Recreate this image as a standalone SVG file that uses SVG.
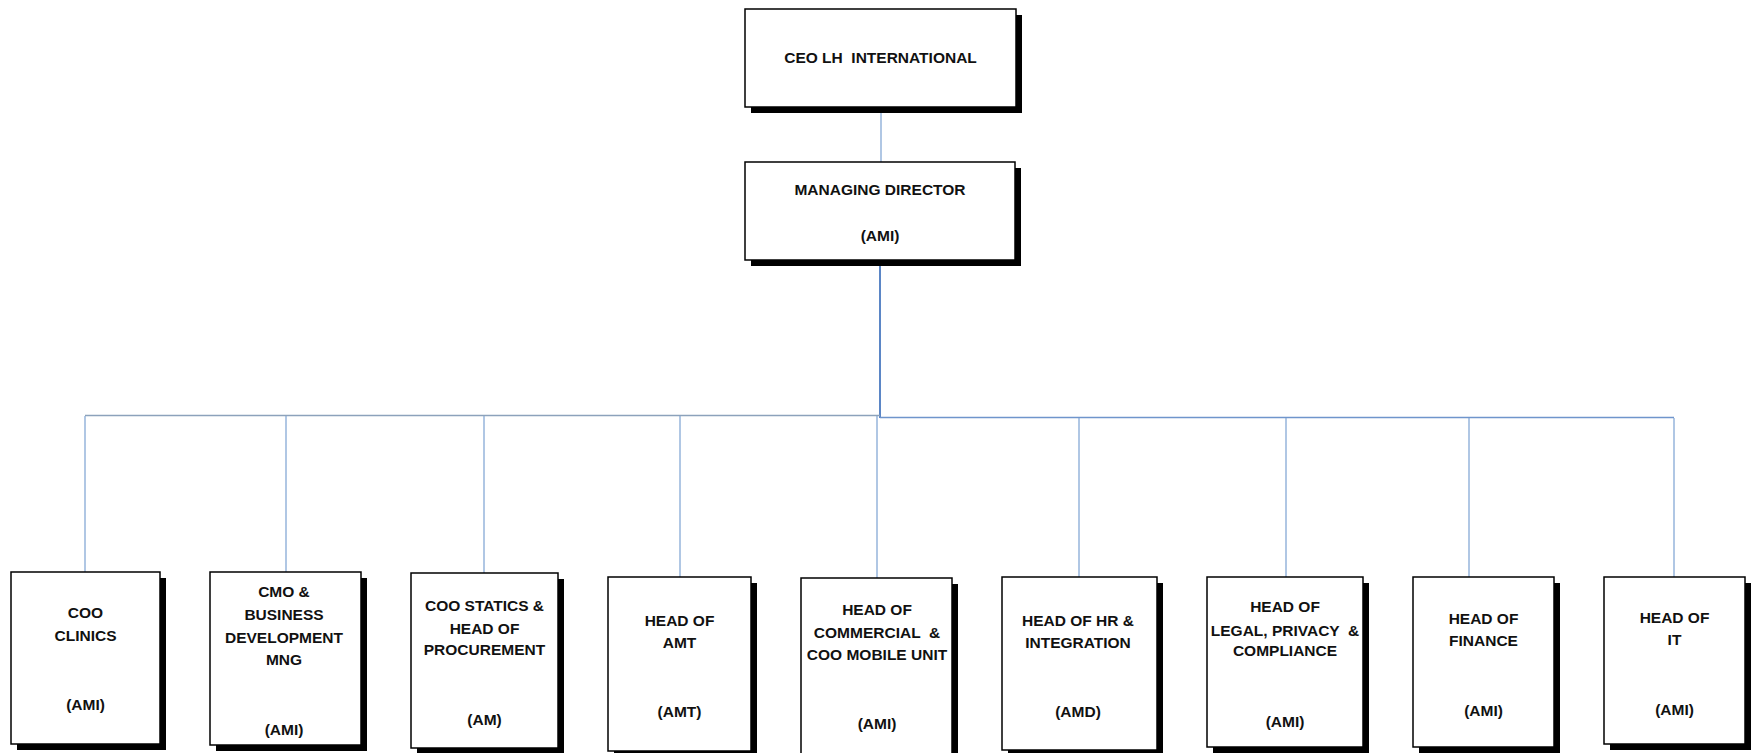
<svg xmlns="http://www.w3.org/2000/svg" width="1754" height="753" viewBox="0 0 1754 753">
<style>
.box{fill:#ffffff;stroke:#000000;stroke-width:1.5}
.sh{fill:#000000}
.t{font-family:"Liberation Sans",Arial,sans-serif;font-weight:bold;font-size:15.5px;fill:#111111;text-anchor:middle}
.c{fill:none;stroke:#86a9d6;stroke-width:1.3}
.cb{fill:none;stroke:#5b86c6;stroke-width:2}
.cg{fill:none;stroke:#8ca2bb;stroke-width:1.5}
</style>
<rect width="1754" height="753" fill="#ffffff"/>
<g id="connectors">
<line class="c" x1="881" y1="107" x2="881" y2="162"/>
<line class="cb" x1="880" y1="260" x2="880" y2="418"/>
<line class="cg" x1="85" y1="415.5" x2="880" y2="415.5"/>
<line class="cb" x1="880" y1="417.5" x2="1674" y2="417.5" style="stroke-width:1.5;stroke:#6f95cc"/>
<line class="c" x1="85" y1="416" x2="85" y2="572"/>
<line class="c" x1="286" y1="416" x2="286" y2="572"/>
<line class="c" x1="484" y1="416" x2="484" y2="573"/>
<line class="c" x1="680" y1="416" x2="680" y2="577"/>
<line class="c" x1="877" y1="416" x2="877" y2="578"/>
<line class="c" x1="1079" y1="418" x2="1079" y2="577"/>
<line class="c" x1="1286" y1="418" x2="1286" y2="577"/>
<line class="c" x1="1469" y1="418" x2="1469" y2="577"/>
<line class="c" x1="1674" y1="418" x2="1674" y2="577"/>
</g>
<g id="ceo">
<rect class="sh" x="751" y="15" width="271" height="98"/>
<rect class="box" x="745" y="9" width="271" height="98"/>
<text class="t" x="880.5" y="62.5" xml:space="preserve">CEO LH  INTERNATIONAL</text>
</g>
<g id="md">
<rect class="sh" x="751" y="168" width="270" height="98"/>
<rect class="box" x="745" y="162" width="270" height="98"/>
<text class="t" x="880" y="194.5">MANAGING DIRECTOR</text>
<text class="t" x="880" y="240.5">(AMI)</text>
</g>
<g id="coo-clinics">
<rect class="sh" x="17" y="578" width="149" height="172"/>
<rect class="box" x="11" y="572" width="149" height="172"/>
<text class="t" x="85.5" y="618">COO</text>
<text class="t" x="85.5" y="641">CLINICS</text>
<text class="t" x="85.5" y="709.5">(AMI)</text>
</g>
<g id="cmo">
<rect class="sh" x="216" y="578" width="151" height="173"/>
<rect class="box" x="210" y="572" width="151" height="173"/>
<text class="t" x="284" y="596.5">CMO &amp;</text>
<text class="t" x="284" y="619.5">BUSINESS</text>
<text class="t" x="284" y="642.5">DEVELOPMENT</text>
<text class="t" x="284" y="665">MNG</text>
<text class="t" x="284" y="734.5">(AMI)</text>
</g>
<g id="coo-statics">
<rect class="sh" x="417" y="579" width="147" height="175"/>
<rect class="box" x="411" y="573" width="147" height="175"/>
<text class="t" x="484.5" y="610.5">COO STATICS &amp;</text>
<text class="t" x="484.5" y="633.5">HEAD OF</text>
<text class="t" x="484.5" y="655">PROCUREMENT</text>
<text class="t" x="484.5" y="725">(AM)</text>
</g>
<g id="head-amt">
<rect class="sh" x="614" y="583" width="143" height="174"/>
<rect class="box" x="608" y="577" width="143" height="174"/>
<text class="t" x="679.5" y="625.5">HEAD OF</text>
<text class="t" x="679.5" y="648">AMT</text>
<text class="t" x="679.5" y="716.5">(AMT)</text>
</g>
<g id="head-commercial">
<rect class="sh" x="807" y="584" width="151" height="176"/>
<rect class="box" x="801" y="578" width="151" height="176"/>
<text class="t" x="877" y="615" xml:space="preserve">HEAD OF</text>
<text class="t" x="877" y="638" xml:space="preserve">COMMERCIAL  &amp;</text>
<text class="t" x="877" y="659.5">COO MOBILE UNIT</text>
<text class="t" x="877" y="729">(AMI)</text>
</g>
<g id="head-hr">
<rect class="sh" x="1008" y="583" width="155" height="173"/>
<rect class="box" x="1002" y="577" width="155" height="173"/>
<text class="t" x="1078" y="625.5">HEAD OF HR &amp;</text>
<text class="t" x="1078" y="648">INTEGRATION</text>
<text class="t" x="1078" y="716.5">(AMD)</text>
</g>
<g id="head-legal">
<rect class="sh" x="1213" y="583" width="156" height="170"/>
<rect class="box" x="1207" y="577" width="156" height="170"/>
<text class="t" x="1285" y="612">HEAD OF</text>
<text class="t" x="1285" y="635.5" xml:space="preserve">LEGAL, PRIVACY  &amp;</text>
<text class="t" x="1285" y="656">COMPLIANCE</text>
<text class="t" x="1285" y="727">(AMI)</text>
</g>
<g id="head-finance">
<rect class="sh" x="1419" y="583" width="141" height="170"/>
<rect class="box" x="1413" y="577" width="141" height="170"/>
<text class="t" x="1483.5" y="624">HEAD OF</text>
<text class="t" x="1483.5" y="646">FINANCE</text>
<text class="t" x="1483.5" y="715.5">(AMI)</text>
</g>
<g id="head-it">
<rect class="sh" x="1610" y="583" width="141" height="167"/>
<rect class="box" x="1604" y="577" width="141" height="167"/>
<text class="t" x="1674.5" y="623">HEAD OF</text>
<text class="t" x="1674.5" y="645">IT</text>
<text class="t" x="1674.5" y="715">(AMI)</text>
</g>
</svg>
